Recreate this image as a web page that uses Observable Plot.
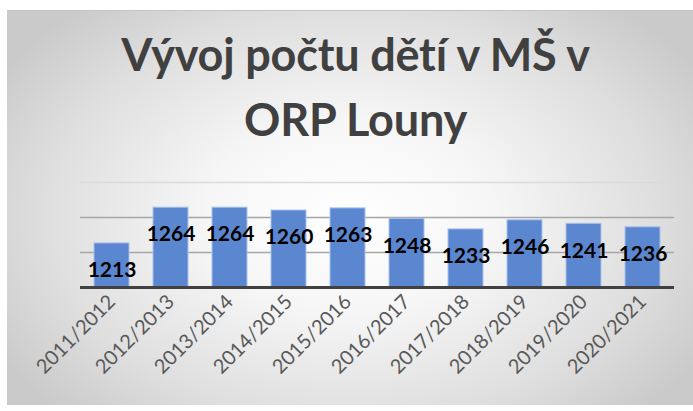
<!DOCTYPE html>
<html>
<head>
<meta charset="utf-8">
<script src="https://cdn.jsdelivr.net/npm/d3@7"></script>
<script src="https://cdn.jsdelivr.net/npm/@observablehq/plot@0.6"></script>
<style>
  html, body { margin: 0; padding: 0; background: #ffffff; width: 693px; height: 411px; overflow: hidden; }
  #frame {
    position: absolute; left: 7px; top: 10px; width: 686px; height: 394px;
    border-top: 1px solid #c4c4c4;
    background: radial-gradient(ellipse 60% 70% at 50% 52%, #ffffff 0%, #f6f6f6 35%, #dedede 75%, #cacaca 100%);
    overflow: hidden;
  }
  #title {
    position: absolute; left: 0; width: 697px; top: 11px; text-align: center;
    font-family: Lato, sans-serif; font-weight: bold; font-size: 45px; line-height: 65px;
    color: #404040; letter-spacing: -0.2px;
  }
  #chart { position: absolute; left: 0; top: 150px; }
</style>
</head>
<body>
<div id="frame">
  <div id="title">Vývoj počtu dětí v MŠ v<br>ORP Louny</div>
  <div id="chart"></div>
</div>
<script>
const years = ["2011/2012","2012/2013","2013/2014","2014/2015","2015/2016","2016/2017","2017/2018","2018/2019","2019/2020","2020/2021"];
const counts = [1213, 1264, 1264, 1260, 1263, 1248, 1233, 1246, 1241, 1236];
const yMin = 1150, yMax = 1300;
const gridValues = [1200, 1250];

const data = years.map((y, i) => ({year: y, value: counts[i]}));

const chart = Plot.plot({
  width: 686,
  height: 244,
  marginLeft: 73,
  marginRight: 19,
  marginTop: 21,
  marginBottom: 118,
  style: {background: "transparent", overflow: "visible"},
  x: {domain: years, paddingInner: 0.41, paddingOuter: 0.205, label: null},
  y: {domain: [yMin, yMax], axis: null},
  marks: [
    Plot.ruleY([yMax], {stroke: "#dadada", strokeWidth: 1.3}),
    Plot.ruleY(gridValues, {stroke: "#a6a6a6", strokeWidth: 1.3}),
    Plot.barY(data, {x: "year", y1: yMin, y2: "value", fill: "#5b87d0", stroke: "#a9c1ea", strokeWidth: 1}),
    Plot.ruleY([yMin], {stroke: "#404040", strokeWidth: 3}),
    Plot.axisX({tickSize: 0, tickPadding: 11, tickRotate: -45, fontSize: 20, fill: "#595959", fontFamily: "Lato, sans-serif", label: null}),
    Plot.text(data, {x: "year", y: "value", text: d => String(d.value), dy: 27, fontSize: 21, fontWeight: "bold", fill: "#000000", fontFamily: "Lato, sans-serif"})
  ]
});
document.getElementById("chart").appendChild(chart);
</script>
</body>
</html>
